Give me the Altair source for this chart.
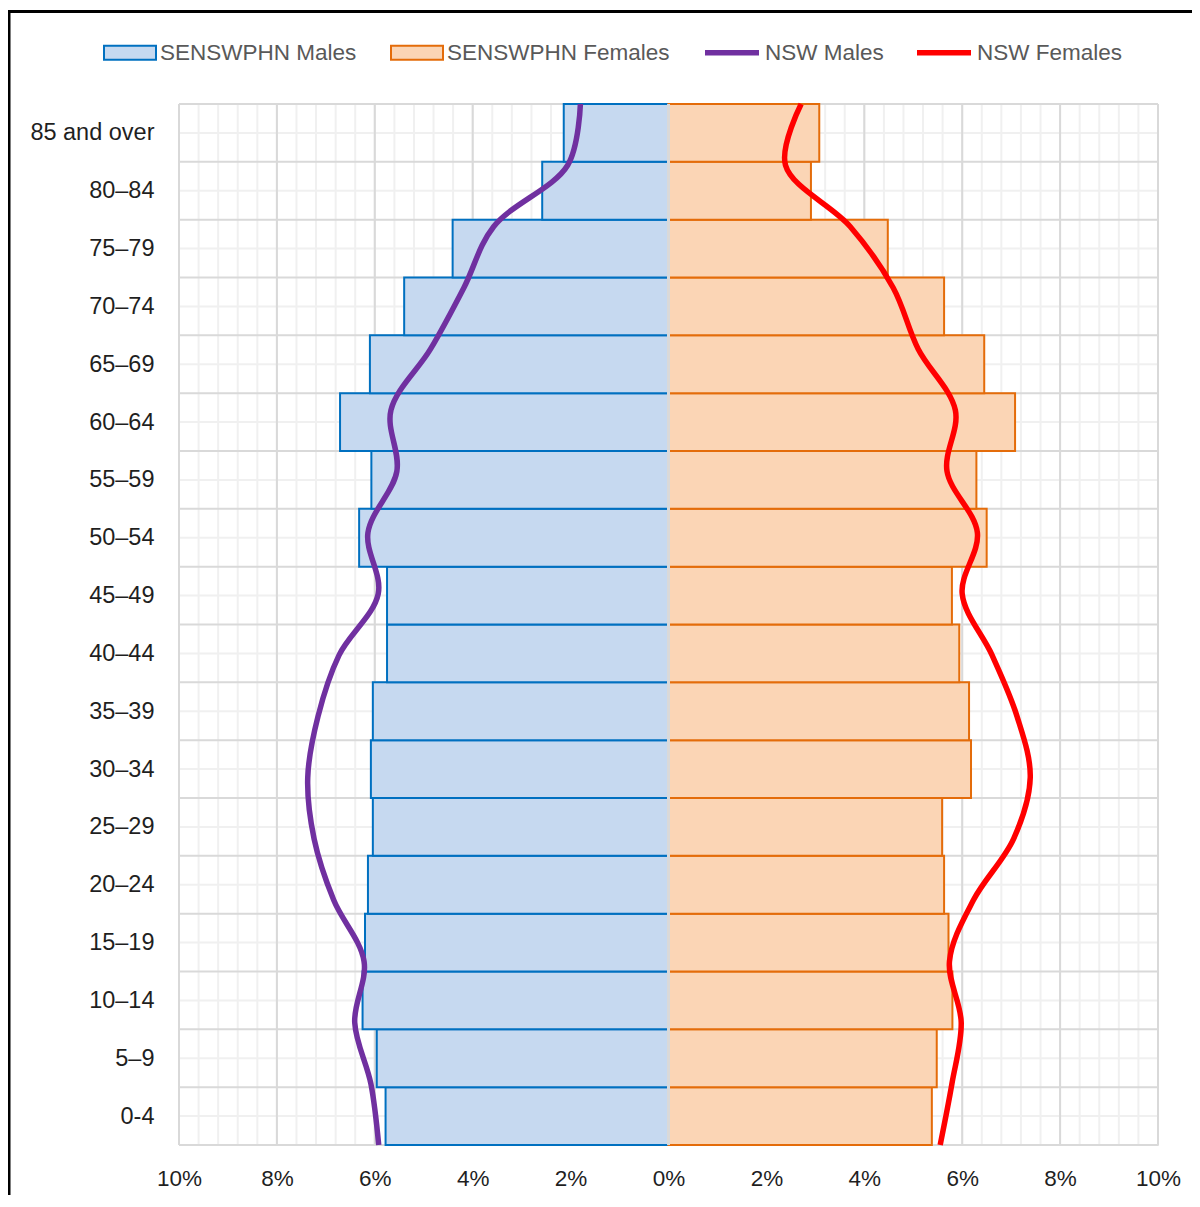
import altair as alt
import pandas as pd

# ---------------- data (bottom to top) ----------------
categories = ["0-4", "5–9", "10–14", "15–19", "20–24", "25–29", "30–34", "35–39",
              "40–44", "45–49", "50–54", "55–59", "60–64", "65–69", "70–74",
              "75–79", "80–84", "85 and over"]
senswphn_males = [5.78, 5.96, 6.25, 6.20, 6.14, 6.04, 6.08, 6.04, 5.75, 5.75,
                  6.32, 6.07, 6.71, 6.10, 5.40, 4.41, 2.58, 2.14]
senswphn_females = [5.38, 5.48, 5.80, 5.72, 5.63, 5.59, 6.18, 6.14, 5.94, 5.79,
                    6.50, 6.29, 7.08, 6.45, 5.63, 4.48, 2.91, 3.08]
nsw_males = [5.92, 6.08, 6.41, 6.22, 6.84, 7.24, 7.37, 7.16, 6.73, 5.93,
             6.14, 5.55, 5.67, 4.86, 4.18, 3.57, 2.06, 1.80]
nsw_females = [5.55, 5.79, 5.98, 5.74, 6.23, 7.05, 7.39, 7.12, 6.61, 6.00,
               6.31, 5.69, 5.86, 5.10, 4.59, 3.71, 2.39, 2.71]
x_tick_values = [-10, -8, -6, -4, -2, 0, 2, 4, 6, 8, 10]

bar_series = ["SENSWPHN Males", "SENSWPHN Females"]
line_series = ["NSW Males", "NSW Females"]

FONT = "Liberation Sans"
W, H = 979, 1041
n = len(categories)

# ---------------- tables ----------------
bar_rows = []
for i, c in enumerate(categories):
    bar_rows.append({"series": bar_series[0], "x": -senswphn_males[i], "x2": 0, "y": i, "y2": i + 1})
    bar_rows.append({"series": bar_series[1], "x": 0, "x2": senswphn_females[i], "y": i, "y2": i + 1})
bars_df = pd.DataFrame(bar_rows)

line_rows = []
for i in range(n):
    ypos = i * n / (n - 1)
    line_rows.append({"series": line_series[0], "i": i, "x": -nsw_males[i], "y": ypos})
    line_rows.append({"series": line_series[1], "i": i, "x": nsw_females[i], "y": ypos})
lines_df = pd.DataFrame(line_rows)

major_v = pd.DataFrame({"x": x_tick_values})
minor_v = pd.DataFrame({"x": [round(-10 + 0.4 * k, 2) for k in range(51)]})
major_h = pd.DataFrame({"y": list(range(n + 1))})
minor_h = pd.DataFrame({"y": [i + 0.5 for i in range(n)]})
one = pd.DataFrame({"a": [0]})

xscale = alt.Scale(domain=[-10, 10], nice=False, zero=False)
yscale = alt.Scale(domain=[0, n], nice=False, zero=False)

label_array = "[" + ",".join("'" + c + "'" for c in categories) + "]"

xaxis = alt.Axis(
    values=x_tick_values, labelExpr="abs(datum.value) + '%'", title=None,
    grid=False, ticks=False, domain=False, labelFont=FONT, labelFontSize=22.5,
    labelColor="#1f1f1f", labelPadding=22, labelFlush=False, labelOverlap=False)
yaxis = alt.Axis(
    values=[i + 0.5 for i in range(n)],
    labelExpr=label_array + "[floor(datum.value)]", title=None,
    grid=False, ticks=False, domain=False, labelFont=FONT, labelFontSize=23.5,
    labelColor="#1f1f1f", labelPadding=25, labelFlush=False, labelOverlap=False)

X = lambda f: alt.X(f, scale=xscale, axis=xaxis)
Y = lambda f: alt.Y(f, scale=yscale, axis=yaxis)

# ---------------- layers ----------------
grid_minor_v = alt.Chart(minor_v).mark_rule(color="#f0f0f0", strokeWidth=2).encode(x=X("x:Q"))
grid_minor_h = alt.Chart(minor_h).mark_rule(color="#f0f0f0", strokeWidth=2).encode(y=Y("y:Q"))
grid_major_v = alt.Chart(major_v).mark_rule(color="#d9d9d9", strokeWidth=2).encode(x=X("x:Q"))
grid_major_h = alt.Chart(major_h).mark_rule(color="#d9d9d9", strokeWidth=2).encode(y=Y("y:Q"))

bar_legend = alt.Legend(
    title=None, orient="none", direction="horizontal", legendX=-76, legendY=-78.5,
    symbolType="M-1,-0.27L1,-0.27L1,0.27L-1,0.27Z", symbolSize=2704,
    symbolStrokeWidth=2, labelFont=FONT, labelFontSize=22.5, labelColor="#595959",
    labelOffset=3, columnPadding=30, padding=0, labelLimit=0)

bars = alt.Chart(bars_df).mark_rect(strokeWidth=2).encode(
    x=X("x:Q"), x2="x2:Q",
    y=Y("y:Q"), y2="y2:Q",
    fill=alt.Fill("series:N", scale=alt.Scale(domain=bar_series, range=["#C6D9F0", "#FBD5B5"]),
                  legend=bar_legend),
    stroke=alt.Stroke("series:N", scale=alt.Scale(domain=bar_series, range=["#0070C0", "#E46C0A"]),
                      legend=bar_legend),
)

zero_rule = alt.Chart(pd.DataFrame({"x": [0]})).mark_rule(color="#d9d9d9", strokeWidth=3).encode(
    x=X("x:Q"))

lines = alt.Chart(lines_df).mark_line(strokeWidth=5.5, interpolate="catmull-rom").encode(
    x=X("x:Q"),
    y=Y("y:Q"),
    order=alt.Order("i:Q"),
    stroke=alt.Stroke("series:N", scale=alt.Scale(domain=line_series, range=["#7030A0", "#FF0000"]),
                      legend=alt.Legend(
                          title=None, orient="none", direction="horizontal", legendX=523, legendY=-81.5,
                          symbolType="stroke", symbolSize=2916, symbolStrokeWidth=5.5,
                          labelFont=FONT, labelFontSize=22.5, labelColor="#595959",
                          labelOffset=3, columnPadding=22, padding=0, labelLimit=0)),
)

frame_top = alt.Chart(one).mark_rule(color="#000000", strokeWidth=3).encode(
    x=alt.value(-171), x2=alt.value(W + 40), y=alt.value(-92.5))
frame_left = alt.Chart(one).mark_rule(color="#000000", strokeWidth=3).encode(
    x=alt.value(-170), y=alt.value(-94), y2=alt.value(H + 60))

chart = alt.layer(
    grid_minor_v, grid_minor_h, grid_major_v, grid_major_h,
    bars, zero_rule, lines, frame_top, frame_left
).resolve_scale(
    fill="independent", stroke="independent"
).resolve_legend(
    fill="independent", stroke="independent"
).properties(
    width=W, height=H,
    autosize=alt.AutoSizeParams(type="none"),
    padding={"left": 171, "top": 96, "right": 34, "bottom": 50},
).configure_view(strokeWidth=0).configure(background="white")

chart.save("out.html", embed_options={"renderer": "svg", "actions": False})
